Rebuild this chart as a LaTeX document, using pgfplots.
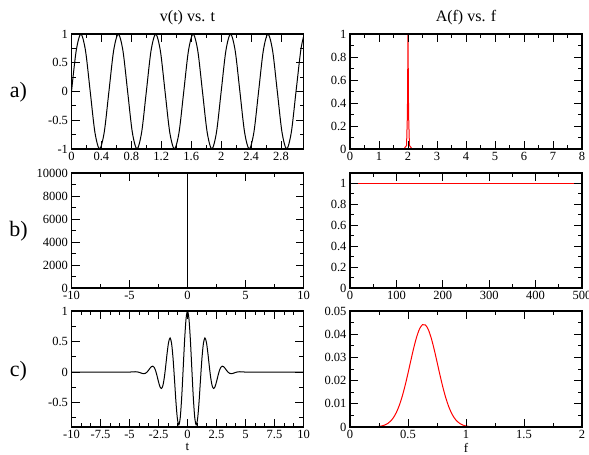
\documentclass[border=0pt]{standalone}
\usepackage{fontspec}
\setmainfont{Liberation Serif}
\usepackage{pgfplots}
\pgfplotsset{compat=1.18}
\definecolor{gred}{RGB}{255,0,0}
\pgfplotsset{
  gr/.style={scale only axis, width=232pt, height=115pt, anchor=north west,
    axis on top, tick align=inside, major tick length=8pt, minor tick length=4pt,
    axis line style={line width=1.1pt},
    every tick/.style={black, line width=0.9pt},
    tick label style={font=\fontsize{12.5}{12.5}\selectfont},
    /pgf/number format/assume math mode=true,
    /pgf/number format/1000 sep={},
    scaled ticks=false,
    minor tick num=1,
    xlabel style={font=\fontsize{13}{13}\selectfont, yshift=2.5pt},
  },
  blk/.style={black, line width=1pt},
  rd/.style={gred, line width=1pt},
}
\begin{document}
\begin{tikzpicture}
\useasboundingbox (0,0) rectangle (589pt,-455pt);
% ---------- a) left
\begin{axis}[gr, at={(71.5pt,-34pt)}, xmin=0, xmax=3.1, ymin=-1, ymax=1,
  xtick={0,0.4,0.8,1.2,1.6,2,2.4,2.8}, ytick={-1,-0.5,0,0.5,1}]
\addplot[blk, smooth] coordinates {
(0,0)(0.0625,0.7071)(0.125,1)(0.1875,0.7071)(0.25,0)(0.3125,-0.7071)(0.375,-1)(0.4375,-0.7071)
(0.5,0)(0.5625,0.7071)(0.625,1)(0.6875,0.7071)(0.75,0)(0.8125,-0.7071)(0.875,-1)(0.9375,-0.7071)
(1,0)(1.0625,0.7071)(1.125,1)(1.1875,0.7071)(1.25,0)(1.3125,-0.7071)(1.375,-1)(1.4375,-0.7071)
(1.5,0)(1.5625,0.7071)(1.625,1)(1.6875,0.7071)(1.75,0)(1.8125,-0.7071)(1.875,-1)(1.9375,-0.7071)
(2,0)(2.0625,0.7071)(2.125,1)(2.1875,0.7071)(2.25,0)(2.3125,-0.7071)(2.375,-1)(2.4375,-0.7071)
(2.5,0)(2.5625,0.7071)(2.625,1)(2.6875,0.7071)(2.75,0)(2.8125,-0.7071)(2.875,-1)(2.9375,-0.7071)
(3,0)(3.0625,0.7071)(3.1,0.9511)};
\end{axis}
% ---------- a) right
\begin{axis}[gr, at={(350pt,-34pt)}, xmin=0, xmax=8, ymin=0, ymax=1,
  xtick={0,1,...,8}, ytick={0,0.2,0.4,0.6,0.8,1},
  yticklabels={0,0.2,0.4,0.6,0.8,1}]
\addplot[rd] table {
f A
0 0
1.86 0
1.9 0.015
1.95 0.03
1.98 0.3
2 1
2.02 0.3
2.05 0.03
2.1 0.015
2.14 0
8 0
};
\end{axis}
% ---------- b) left
\begin{axis}[gr, at={(71.5pt,-173pt)}, xmin=-10, xmax=10, ymin=0, ymax=10000,
  xtick={-10,-5,0,5,10}, ytick={0,2000,4000,6000,8000,10000}]
\addplot[black, line width=1.4pt] coordinates {(-10,0)(0,0)(0,10000)(0,0)(10,0)};
\end{axis}
% ---------- b) right
\begin{axis}[gr, at={(350pt,-173pt)}, xmin=0, xmax=500, ymin=0, ymax=1.1,
  xtick={0,100,...,500}, ytick={0,0.2,0.4,0.6,0.8,1},
  yticklabels={0,0.2,0.4,0.6,0.8,1}]
\addplot[gred, line width=1.5pt] coordinates {(0,1)(500,1)};
\end{axis}
% ---------- c) left
\begin{axis}[gr, at={(71.5pt,-311pt)}, height=116pt, xmin=-10, xmax=10, ymin=-0.9, ymax=1,
  xtick={-10,-7.5,-5,-2.5,0,2.5,5,7.5,10}, minor x tick num=2,
  xticklabels={-10,-7.5,-5,-2.5,0,2.5,5,7.5,10},
  ytick={-0.5,0,0.5,1}, minor ytick={-0.75,-0.25,0.25,0.75}, xlabel={t}]
\addplot[blk, smooth] table {
t v
-10 0
-6 0
-5 0.0003
-4.875 0.0016
-4.75 0.0033
-4.625 0.0047
-4.5 0.0052
-4.375 0.0037
-4.25 -0.0006
-4.125 -0.0075
-4 -0.0160
-3.875 -0.0234
-3.75 -0.0260
-3.625 -0.0198
-3.5 -0.0024
-3.375 0.0255
-3.25 0.0586
-3.125 0.0866
-3 0.0969
-2.875 0.0775
-2.75 0.0229
-2.625 -0.0620
-2.5 -0.1590
-2.375 -0.2391
-2.25 -0.2692
-2.125 -0.2229
-2 -0.0922
-1.875 0.1041
-1.75 0.3206
-1.625 0.4931
-1.5 0.5581
-1.375 0.4730
-1.25 0.2350
-1.125 -0.1103
-1 -0.4767
-0.875 -0.7588
-0.75 -0.8644
-0.625 -0.7445
-0.5 -0.4137
-0.375 0.0489
-0.25 0.5208
-0.125 0.8710
0 1
0.125 0.8710
0.25 0.5208
0.375 0.0489
0.5 -0.4137
0.625 -0.7445
0.75 -0.8644
0.875 -0.7588
1 -0.4767
1.125 -0.1103
1.25 0.2350
1.375 0.4730
1.5 0.5581
1.625 0.4931
1.75 0.3206
1.875 0.1041
2 -0.0922
2.125 -0.2229
2.25 -0.2692
2.375 -0.2391
2.5 -0.1590
2.625 -0.0620
2.75 0.0229
2.875 0.0775
3 0.0969
3.125 0.0866
3.25 0.0586
3.375 0.0255
3.5 -0.0024
3.625 -0.0198
3.75 -0.0260
3.875 -0.0234
4 -0.0160
4.125 -0.0075
4.25 -0.0006
4.375 0.0037
4.5 0.0052
4.625 0.0047
4.75 0.0033
4.875 0.0016
5 0.0003
6 0
10 0
};
\end{axis}
% ---------- c) right
\begin{axis}[gr, at={(350pt,-311pt)}, height=116pt, xmin=0, xmax=2, ymin=0, ymax=0.05,
  xtick={0,0.5,1,1.5,2}, ytick={0,0.01,0.02,0.03,0.04,0.05},
  yticklabels={0,0.01,0.02,0.03,0.04,0.05}, xlabel={f}]
\addplot[rd, smooth] table {
f A
0 0
0.2 0.00006
0.225 0.00012
0.25 0.00024
0.275 0.00046
0.3 0.00085
0.325 0.00150
0.35 0.00253
0.375 0.00408
0.4 0.00631
0.425 0.00933
0.45 0.01320
0.475 0.01788
0.5 0.02319
0.525 0.02878
0.55 0.03420
0.575 0.03889
0.6 0.04234
0.625 0.04411
0.65 0.04400
0.675 0.04201
0.7 0.03838
0.725 0.03357
0.75 0.02811
0.775 0.02253
0.8 0.01728
0.825 0.01269
0.85 0.00892
0.875 0.00600
0.9 0.00386
0.925 0.00238
0.95 0.00140
0.975 0.00079
1 0.00043
1.025 0.00022
1.05 0.00011
1.1 0.00002
2 0
};
\end{axis}
% ---------- titles and row labels
\node[font=\fontsize{16}{16}\selectfont] at (187.5pt,-18pt) {v(t) vs. t};
\node[font=\fontsize{16}{16}\selectfont] at (466pt,-18pt) {A(f) vs. f};
\node[font=\fontsize{22}{22}\selectfont] at (18.5pt,-92pt) {a)};
\node[font=\fontsize{22}{22}\selectfont] at (18.5pt,-231pt) {b)};
\node[font=\fontsize{22}{22}\selectfont] at (18.5pt,-371pt) {c)};
\end{tikzpicture}
\end{document}
